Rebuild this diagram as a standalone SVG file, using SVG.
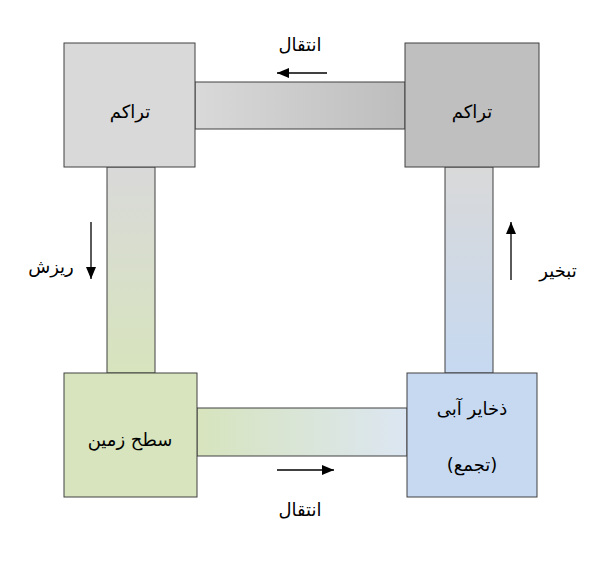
<svg xmlns="http://www.w3.org/2000/svg" width="597" height="565" viewBox="0 0 597 565">
<defs>
<linearGradient id="gTop" x1="0" y1="0" x2="1" y2="0"><stop offset="0" stop-color="#d9d9d9"/><stop offset="1" stop-color="#bdbdbd"/></linearGradient>
<linearGradient id="gLeft" x1="0" y1="0" x2="0" y2="1"><stop offset="0" stop-color="#d9d9d9"/><stop offset="1" stop-color="#d7e4bd"/></linearGradient>
<linearGradient id="gRight" x1="0" y1="0" x2="0" y2="1"><stop offset="0" stop-color="#d9d9d9"/><stop offset="1" stop-color="#c6d9f1"/></linearGradient>
<linearGradient id="gBot" x1="0" y1="0" x2="1" y2="0"><stop offset="0" stop-color="#d7e4bd"/><stop offset="1" stop-color="#dce6f2"/></linearGradient>
<marker id="ah" viewBox="0 0 12 10" refX="12" refY="5" markerWidth="12" markerHeight="10" markerUnits="userSpaceOnUse" orient="auto"><path d="M0,0 L12,5 L0,10 z" fill="#000"/></marker>
</defs>
<style>
.box{stroke:#404040;stroke-width:1}
.t{font-family:"DejaVu Sans",sans-serif;font-size:18px;fill:#000;text-anchor:middle;direction:rtl}
.ar{stroke:#000;stroke-width:1.3;fill:none;marker-end:url(#ah)}
</style>
<g id="connectors">
<rect class="box" x="195" y="82" width="210" height="47" fill="url(#gTop)"/>
<rect class="box" x="107" y="167" width="48" height="206" fill="url(#gLeft)"/>
<rect class="box" x="445" y="167" width="48" height="206" fill="url(#gRight)"/>
<rect class="box" x="197" y="408" width="210" height="48" fill="url(#gBot)"/>
<line class="ar" x1="327" y1="73" x2="277" y2="73"/>
<line class="ar" x1="91" y1="222" x2="91" y2="279"/>
<line class="ar" x1="511" y1="280" x2="511" y2="222"/>
<line class="ar" x1="277" y1="470" x2="334" y2="470"/>
<text class="t" x="300" y="51">انتقال</text>
<text class="t" x="51" y="273">ریزش</text>
<text class="t" x="558" y="277">تبخیر</text>
<text class="t" x="300" y="516">انتقال</text>
</g>
<g id="n1"><rect class="box" x="64" y="43" width="131" height="124" fill="#d9d9d9"/><text class="t" x="130" y="118">تراکم</text></g>
<g id="n2"><rect class="box" x="405" y="43" width="134" height="124" fill="#bfbfbf"/><text class="t" x="472" y="118">تراکم</text></g>
<g id="n3"><rect class="box" x="64" y="373" width="133" height="124" fill="#d7e4bd"/><text class="t" x="130" y="446">سطح زمین</text></g>
<g id="n4"><rect class="box" x="407" y="373" width="130" height="124" fill="#c6d9f1"/><text class="t" x="472" y="415">ذخایر آبی</text><text class="t" x="472" y="471">(تجمع)</text></g>
</svg>
